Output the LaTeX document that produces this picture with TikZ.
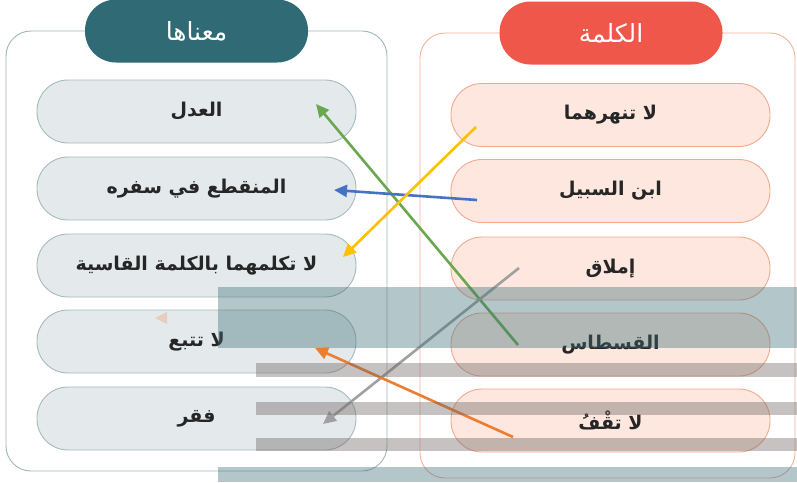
\documentclass[tikz,border=0pt]{standalone}
\usepackage{fontspec}
\usetikzlibrary{arrows.meta}
\newfontfamily\arabicfont[Script=Arabic]{DejaVu Sans}
\TeXXeTstate=1
\definecolor{leftframe}{HTML}{9FB6B7}
\definecolor{rightframe}{HTML}{F2B29B}
\definecolor{tealhead}{HTML}{2F6A75}
\definecolor{redhead}{HTML}{EF574A}
\definecolor{leftfill}{HTML}{E4E9EC}
\definecolor{leftdraw}{HTML}{A6BABB}
\definecolor{rightfill}{HTML}{FDE7DE}
\definecolor{rightdraw}{HTML}{F0AA90}
\definecolor{agreen}{HTML}{6AA84F}
\definecolor{ablue}{HTML}{4472C4}
\definecolor{ayellow}{HTML}{FFC000}
\definecolor{agray}{HTML}{A0A0A0}
\definecolor{aorange}{HTML}{ED7D31}
\definecolor{bandteal}{RGB}{60,110,120}
\definecolor{stripegray}{RGB}{110,102,100}
\tikzset{
  lpill/.style={draw=leftdraw, fill=leftfill, line width=0.9pt, rounded corners=31pt,
    minimum width=319pt, minimum height=63pt, inner sep=0pt,
    font=\arabicfont\bfseries\fontsize{19}{22}\selectfont, text=black!85},
  rpill/.style={draw=rightdraw, fill=rightfill, line width=0.9pt, rounded corners=31pt,
    minimum width=319pt, minimum height=63pt, inner sep=0pt,
    font=\arabicfont\bfseries\fontsize{19}{22}\selectfont, text=black!85},
  header/.style={rounded corners=31pt, minimum width=223pt, minimum height=63pt,
    inner sep=0pt, text=white, font=\arabicfont\fontsize{25}{28}\selectfont},
  frame/.style={line width=0.9pt, rounded corners=25pt},
  conn/.style={line width=2.6pt, -{Triangle[length=13pt,width=12pt]}},
  band/.style={fill=bandteal, fill opacity=0.39, draw=none},
  stripe/.style={fill=stripegray, fill opacity=0.4, draw=none}
}
\begin{document}
\begin{tikzpicture}[x=1pt,y=-1pt]
\useasboundingbox (0,0) rectangle (797,482);
% frames
\draw[frame, draw=leftframe] (6,31) rectangle (387,471);
\draw[frame, draw=rightframe] (420,33) rectangle (795,478);
% headers
\node[header, fill=tealhead] (hl) at (196.5,31) {\beginR معناها\endR};
\node[header, fill=redhead] (hr) at (611,33) {\beginR الكلمة\endR};
% left pills
\node[lpill] (l1) at (196.5,111.5) {\beginR العدل\endR};
\node[lpill] (l2) at (196.5,188.5) {\beginR المنقطع في سفره\endR};
\node[lpill] (l3) at (196.5,265.5) {\beginR لا تكلمهما بالكلمة القاسية\endR};
\node[lpill] (l4) at (196.5,341.5) {\beginR لا تتبع\endR};
\node[lpill] (l5) at (196.5,418.5) {\beginR فقر\endR};
% right pills
\node[rpill] (r1) at (610.5,115) {\beginR لا تنهرهما\endR};
\node[rpill] (r2) at (610.5,191) {\beginR ابن السبيل\endR};
\node[rpill] (r3) at (610.5,268.5) {\beginR إملاق\endR};
\node[rpill] (r4) at (610.5,344.5) {\beginR القسطاس\endR};
\node[rpill] (r5) at (610.5,420.5) {\beginR لا تقْفُ\endR};
% connector ends
\coordinate (gs) at (518,345); \coordinate (ge) at (316,104);
\coordinate (bs) at (477,200); \coordinate (be) at (334,190);
\coordinate (ys) at (476,127); \coordinate (ye) at (343,257);
\coordinate (as) at (519,268); \coordinate (ae) at (323,424);
\coordinate (os) at (513,437); \coordinate (oe) at (315,348);
\draw[conn, draw=agreen, fill=agreen] (gs) -- (ge);
\draw[conn, draw=ablue, fill=ablue] (bs) -- (be);
\draw[conn, draw=ayellow, fill=ayellow] (ys) -- (ye);
\draw[conn, draw=agray, fill=agray] (as) -- (ae);
\draw[conn, draw=aorange, fill=aorange] (os) -- (oe);
% faint ghost arrowhead
\fill[aorange, fill opacity=0.25] (155,318) -- (167,312) -- (167,324) -- cycle;
% overlays
\fill[band] (218,287) rectangle (797,348);
\fill[band] (218,467) rectangle (797,482);
\fill[stripe] (256,363) rectangle (797,377);
\fill[stripe] (256,402) rectangle (797,415);
\fill[stripe] (256,438) rectangle (797,451);
\end{tikzpicture}
\end{document}
